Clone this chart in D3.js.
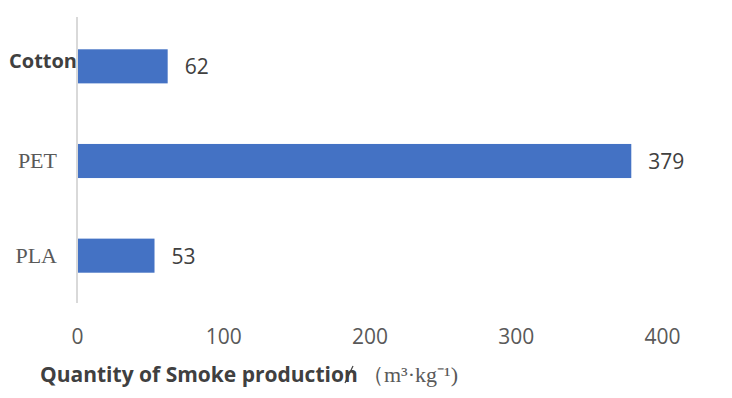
<!DOCTYPE html>
<html>
<head>
<meta charset="utf-8">
<script src="https://cdn.jsdelivr.net/npm/d3@7"></script>
<style>
  html, body { margin: 0; padding: 0; background: #fff; }
  svg { display: block; }
</style>
</head>
<body>
<svg id="chart" width="732" height="398"></svg>
<script>
const categories = ["Cotton", "PET", "PLA"];
const values = [62, 379, 53];
const xTicks = [0, 100, 200, 300, 400];
const axisTitle = "Quantity of Smoke production";
const unitText = "（m³·kg⁻¹)";

const svg = d3.select("#chart");
const x = d3.scaleLinear().domain([0, 400]).range([77, 662]);
const y = d3.scaleBand().domain(categories).range([19, 303])
  .paddingInner(0.64).paddingOuter(0.32);

// vertical axis line
svg.append("line")
  .attr("x1", x(0)).attr("x2", x(0))
  .attr("y1", 17).attr("y2", 303)
  .attr("stroke", "#d9d9d9").attr("stroke-width", 2);

// bars
svg.selectAll("rect.bar").data(values).enter().append("rect")
  .attr("class", "bar")
  .attr("x", x(0) + 1)
  .attr("y", (d, i) => y(categories[i]))
  .attr("width", d => x(d) - x(0) - 1)
  .attr("height", y.bandwidth())
  .attr("fill", "#4472c4");

// value labels
svg.selectAll("text.val").data(values).enter().append("text")
  .attr("class", "val")
  .attr("x", d => x(d) + 17)
  .attr("y", (d, i) => y(categories[i]) + y.bandwidth() / 2 + 8)
  .attr("font-family", "'Open Sans', sans-serif")
  .attr("font-size", 21)
  .attr("fill", "#404040")
  .text(d => d);

// category labels
svg.selectAll("text.cat").data(categories).enter().append("text")
  .attr("class", "cat")
  .attr("x", (d, i) => i === 0 ? 9 : 57)
  .attr("y", (d, i) => y(d) + y.bandwidth() / 2 + (i === 0 ? 2 : 7))
  .attr("text-anchor", (d, i) => i === 0 ? "start" : "end")
  .attr("font-family", (d, i) => i === 0 ? "'Open Sans', sans-serif" : "'Liberation Serif', 'Times New Roman', serif")
  .attr("font-weight", (d, i) => i === 0 ? "bold" : "normal")
  .attr("font-size", (d, i) => i === 0 ? 20 : 22)
  .attr("fill", (d, i) => i === 0 ? "#404040" : "#595959")
  .text(d => d);

// x tick labels
const xAxis = d3.axisBottom(x).tickValues(xTicks).tickSize(0).tickPadding(0);
const gx = svg.append("g").attr("transform", "translate(0,329)").call(xAxis);
gx.select(".domain").remove();
gx.selectAll("text")
  .attr("font-family", "'Open Sans', sans-serif")
  .attr("font-size", 21)
  .attr("fill", "#595959");

// axis title
svg.append("text")
  .attr("x", 40).attr("y", 382)
  .attr("font-family", "'Open Sans', sans-serif")
  .attr("font-weight", "bold")
  .attr("font-size", 21)
  .attr("fill", "#404040")
  .text(axisTitle);
// thin slash drawn over the final "n"
svg.append("line")
  .attr("x1", 345).attr("y1", 383)
  .attr("x2", 353).attr("y2", 366)
  .attr("stroke", "#404040").attr("stroke-width", 1.2);
svg.append("text")
  .attr("x", 362).attr("y", 382)
  .attr("font-family", "'Liberation Serif', 'Times New Roman', serif")
  .attr("font-size", 22)
  .attr("fill", "#595959")
  .text(unitText);
</script>
</body>
</html>
